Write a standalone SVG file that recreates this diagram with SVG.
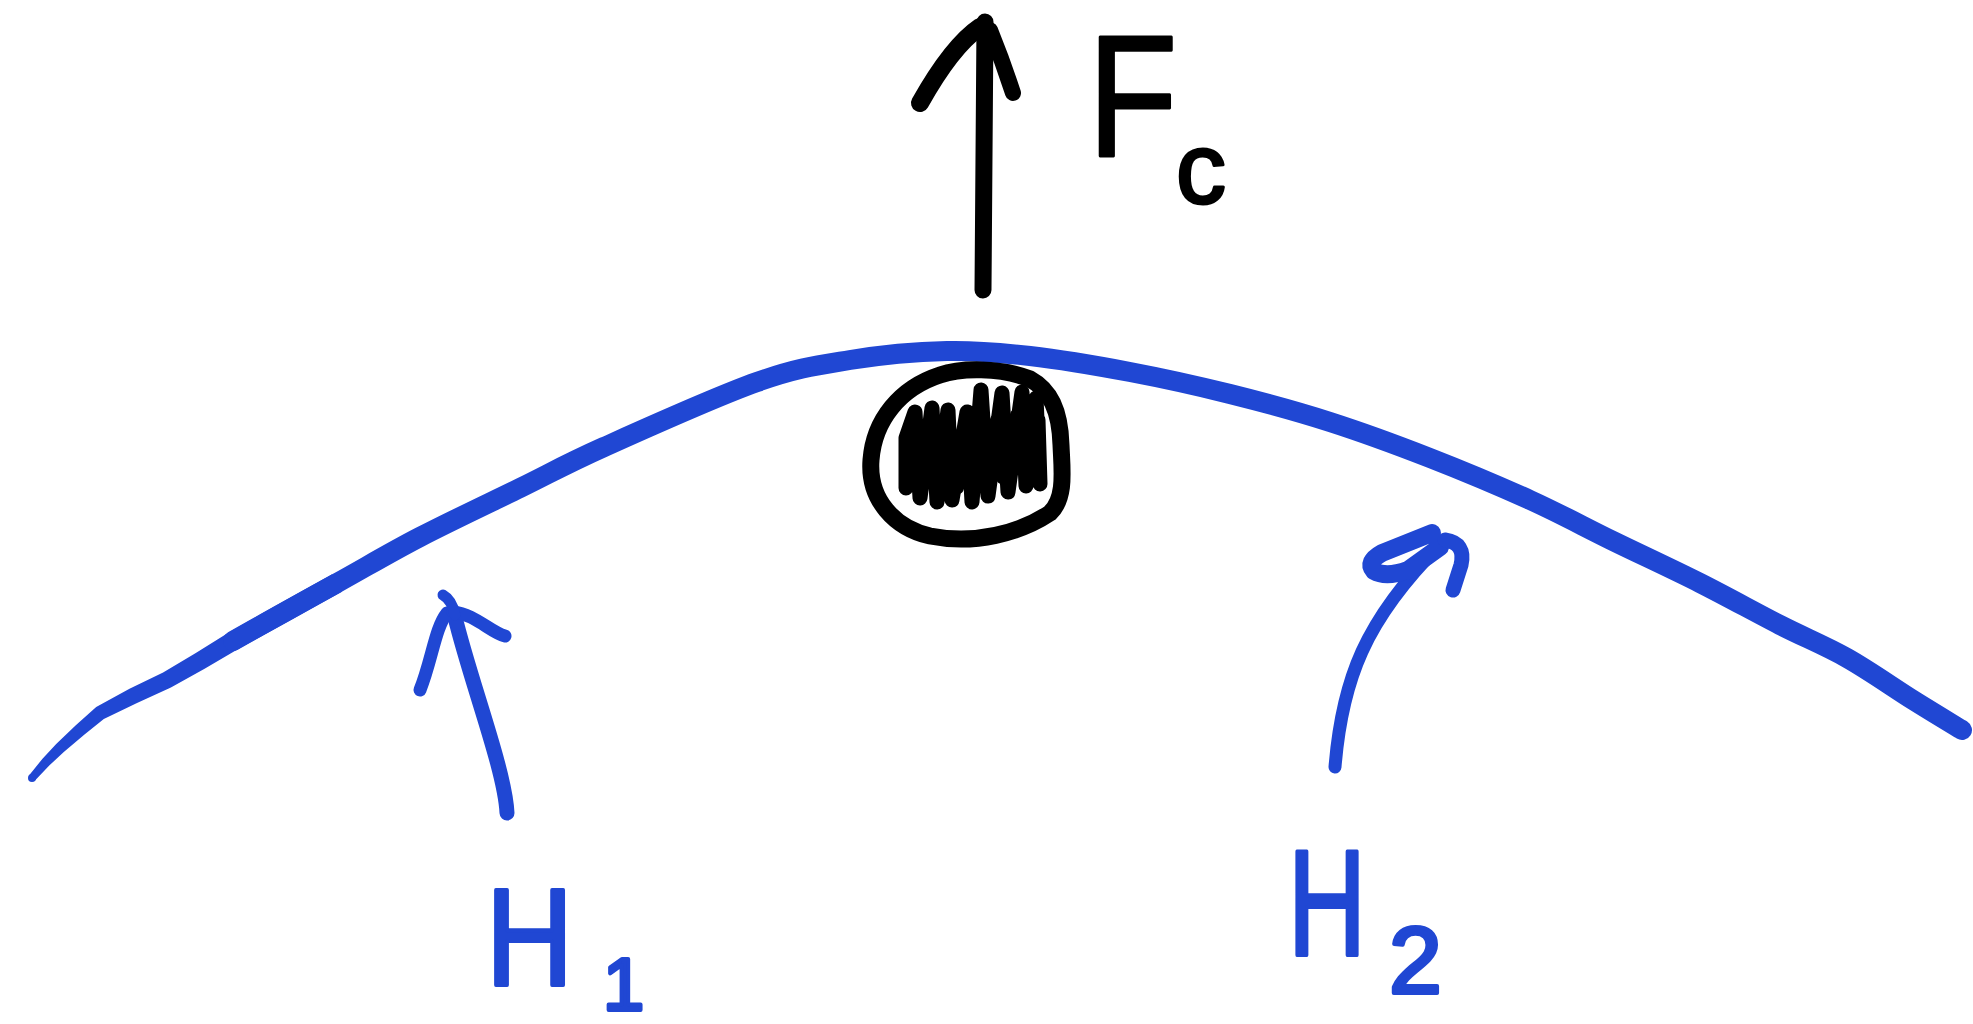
<svg xmlns="http://www.w3.org/2000/svg" width="1973" height="1024" viewBox="0 0 1973 1024">
<style>
.blue{fill:none;stroke:#2047D3;stroke-linecap:round;stroke-linejoin:round}
.bluefill{fill:#2047D3;stroke:none}
.ink{fill:none;stroke:#000;stroke-linecap:round;stroke-linejoin:round}
.lblk{font-family:"Liberation Sans",Arial,sans-serif;fill:#000;stroke:#000;stroke-width:3;stroke-linejoin:round}
.lblu{font-family:"Liberation Sans",Arial,sans-serif;fill:#2047D3;stroke:#2047D3;stroke-width:4;stroke-linejoin:round}
</style>
<rect width="1973" height="1024" fill="#fff"/>
<g id="track">
<path class="bluefill" d="M29,775.4 L42.5,758.7 L56.2,744 L75.8,725.3 L96.2,707.1 L129.5,688.8 L163.1,672.4 L195.4,653.3 L228.3,632.7 L280.1,603.3 L332.1,574.3 L341.9,591.7 L289.9,620.7 L237.8,649.3 L204.6,668.7 L170.9,687.6 L136.5,703.2 L103.8,718.9 L84.2,734.7 L63.8,752 L49.5,765.3 L35,780.6 Z"/>
<circle class="bluefill" cx="32" cy="778" r="4"/>
<path class="blue" stroke-width="20" d="M233,641 C261.3,624.8 305.8,600.3 337,583 C368.2,565.7 389.5,552.8 420,537 C450.5,521.2 489.3,503 520,488 C550.7,473 564.5,464.7 604,447 C643.5,429.3 716,396.5 757,382 C798,367.5 818.3,365.2 850,360 C881.7,354.8 917,351.7 947,351 C977,350.3 999.5,352.5 1030,356 C1060.5,359.5 1096.7,365.7 1130,372 C1163.3,378.3 1196.7,385.7 1230,394 C1263.3,402.3 1296.7,411.3 1330,422 C1363.3,432.7 1396.7,445 1430,458 C1463.3,471 1499.5,486.2 1530,500 C1560.5,513.8 1584.7,527.2 1613,541 C1641.3,554.8 1672.2,569 1700,583 C1727.8,597 1755.5,612.5 1780,625 C1804.5,637.5 1824.8,645.5 1847,658 C1869.2,670.5 1893.8,688 1913,700 C1932.2,712 1953.8,725 1962,730"/>
</g>
<g id="ball">
<path class="ink" stroke-width="17" d="M940,375 C900,388 874,420 871,460 C868,500 895,528 930,536 C975,545 1020,533 1050,513 C1066,498 1062,470 1061,445 C1060,410 1050,390 1030,379 C1000,367 960,368 940,375"/>
<path class="ink" stroke-width="15" d="M906,488 L906,438 L915,412 L920,498 L932,408 L937,502 L948,410 L952,500 L967,412 L972,502 L981,390 L988,496 L1002,393 L1008,492 L1022,392 L1026,486 L1036,398 L1040,484 L1038,420"/>
<path class="ink" stroke-width="12" d="M915,470 L924,430 L933,485 L950,430 L958,488 L971,430 L982,480 L996,420 L1002,478 L1016,415 L1022,470 L1032,420"/>
</g>
<g id="connectors">
<g id="fc-arrow">
<path class="ink" stroke-width="17" d="M985,22 L983,290"/>
<path class="ink" stroke-width="18" d="M920,103 Q952,46 980,27"/>
<path class="ink" stroke-width="16" d="M990,30 Q1003,62 1013,93"/>
</g>
<g id="h1-arrow">
<path class="blue" stroke-width="15" d="M455,617 C470,680 505,770 507,813"/>
<path class="blue" stroke-width="13" d="M420,690 C432,660 435,628 447,613"/>
<path class="blue" stroke-width="13" d="M453,612 C475,614 490,632 505,636"/>
<path class="blue" stroke-width="11" d="M443,595 Q452,600 455,615"/>
</g>
<g id="h2-arrow">
<path class="blue" stroke-width="13" d="M1335,767 C1342,680 1365,620 1440,545"/>
<path class="blue" stroke-width="18" d="M1432,533 L1382,553 Q1366,562 1374,571 Q1386,578 1408,570 L1440,547"/>
<path class="blue" stroke-width="15" d="M1445,540 Q1466,543 1461,565 L1453,590"/>
</g>
</g>
<g id="label-fc">
<text class="lblk" font-size="172" transform="translate(1088,156) scale(0.85,1)">F</text>
<text class="lblk" x="1176" y="203" font-size="100">c</text>
</g>
<g id="label-h1">
<text class="lblu" font-size="137" transform="translate(486,985) scale(0.88,1)">H</text>
<text class="lblu" x="603" y="1010" font-size="74">1</text>
</g>
<g id="label-h2">
<text class="lblu" font-size="150" transform="translate(1288,955) scale(0.72,1)">H</text>
<text class="lblu" x="1389" y="993" font-size="95">2</text>
</g>
</svg>
